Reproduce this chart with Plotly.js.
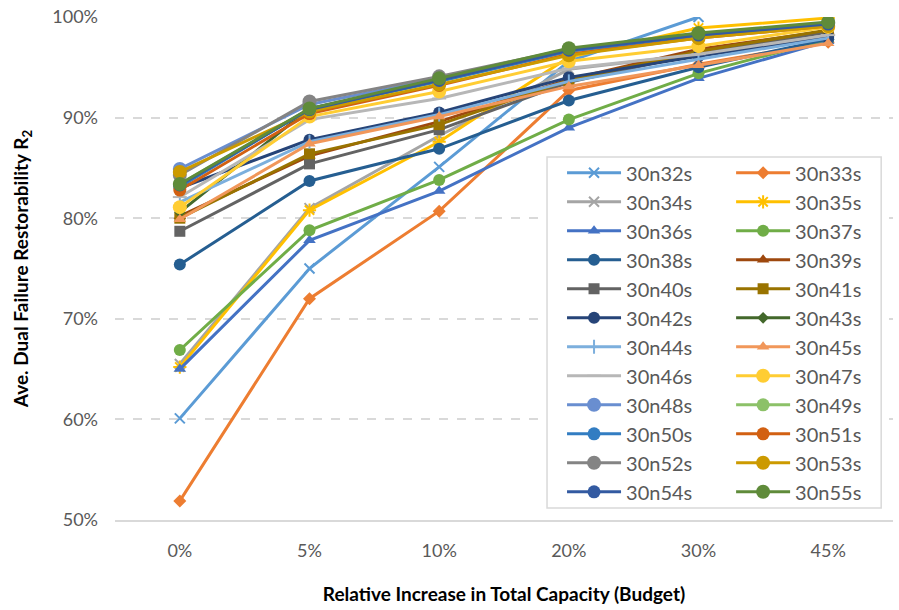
<!DOCTYPE html>
<html><head><meta charset="utf-8">
<script src="https://cdn.plot.ly/plotly-3.0.1.min.js"></script>
<style>html,body{margin:0;padding:0;background:#fff}#chart{width:899px;height:610px}</style>
</head><body><div id="chart"></div>
<script>
// ---- data ----
const categories = ['0%', '5%', '10%', '20%', '30%', '45%'];
const seriesNames = ['30n32s','30n33s','30n34s','30n35s','30n36s','30n37s','30n38s','30n39s',
  '30n40s','30n41s','30n42s','30n43s','30n44s','30n45s','30n46s','30n47s',
  '30n48s','30n49s','30n50s','30n51s','30n52s','30n53s','30n54s','30n55s'];
const s32 = [60.1, 75.0, 85.1, 95.6, 100.0, null];
const s33 = [51.9, 72.0, 80.7, 92.7, 95.3, 97.5];
const s34 = [65.5, 81.0, 88.2, 94.8, 96.3, 98.2];
const s35 = [65.2, 80.8, 87.6, 96.0, 98.9, 99.9];
const s36 = [65.0, 77.8, 82.7, 89.0, 93.9, 97.6];
const s37 = [66.9, 78.8, 83.8, 89.8, 94.4, 97.8];
const s38 = [75.4, 83.7, 86.9, 91.7, 95.0, 97.8];
const s39 = [80.2, 86.2, 89.6, 93.8, 96.8, 98.6];
const s40 = [78.7, 85.4, 88.8, 93.5, 96.4, 98.5];
const s41 = [80.0, 86.4, 89.3, 93.7, 96.6, 98.7];
const s42 = [83.0, 87.8, 90.5, 94.0, 96.1, 98.0];
const s43 = [80.6, 90.9, 93.7, 96.8, 98.3, 99.3];
const s44 = [81.6, 87.6, 90.3, 93.6, 95.8, 97.9];
const s45 = [79.9, 87.4, 90.1, 93.1, 95.2, 97.4];
const s46 = [82.1, 89.8, 91.9, 94.9, 96.3, 98.2];
const s47 = [81.1, 90.1, 92.6, 95.6, 97.1, 99.0];
const s48 = [84.9, 91.3, 93.9, 96.7, 98.2, 99.4];
const s49 = [83.4, 90.8, 93.6, 96.6, 98.2, 99.3];
const s50 = [83.1, 90.9, 93.6, 96.6, 98.1, 99.2];
const s51 = [82.8, 90.4, 93.2, 96.3, 97.9, 99.1];
const s52 = [84.3, 91.6, 94.1, 96.8, 98.3, 99.4];
const s53 = [84.6, 90.6, 93.3, 96.2, 97.9, 99.1];
const s54 = [83.3, 90.8, 93.7, 96.7, 98.2, 99.3];
const s55 = [83.4, 90.9, 93.9, 96.9, 98.4, 99.5];
const yTickVals = [50, 60, 70, 80, 90, 100];
const yTickText = ['50%', '60%', '70%', '80%', '90%', '100%'];

// ---- styles ----
const allSeries = [s32,s33,s34,s35,s36,s37,s38,s39,s40,s41,s42,s43,s44,s45,s46,s47,s48,s49,s50,s51,s52,s53,s54,s55];
const colors = ['#5B9BD5','#ED7D31','#A5A5A5','#FFC000','#4472C4','#70AD47','#255E91','#9E480E',
  '#636363','#997300','#264478','#43682B','#7CAFDD','#F1975A','#B7B7B7','#FFCD33',
  '#698ED0','#8CC168','#327DC2','#D26012','#848484','#CC9A00','#335AA1','#5F8B3A'];
const symbols = ['x-thin-open','diamond','x-thin-open','asterisk-open','triangle-up','circle','circle','triangle-up',
  'square','square','circle','diamond','line-ns-open','triangle-up','line-ew-open','circle',
  'circle','circle','circle','circle','circle','circle','circle','circle'];
const sizes = [10,10,10,11,11,12,12,11,11,11,12,9,10,11,10,14,14,13,13,13,14,14,13,14];

const FONT = 'Lato, "Open Sans", sans-serif';
const traces = seriesNames.map((name, i) => {
  const open = symbols[i].endsWith('-open');
  return {
    type: 'scatter', mode: 'lines+markers', name: name,
    x: categories, y: allSeries[i],
    legend: (i % 2 === 0) ? 'legend' : 'legend2',
    line: {color: colors[i], width: 3},
    marker: {symbol: symbols[i], size: sizes[i], color: colors[i],
             line: {color: colors[i], width: open ? 2 : 0}},
    hoverinfo: 'x+y+name'
  };
});

const legendCommon = {
  orientation: 'v', xanchor: 'left', yanchor: 'top', y: 0.729,
  bgcolor: 'rgba(0,0,0,0)', borderwidth: 0, itemwidth: 54,
  font: {family: FONT, size: 20, color: '#595959'}, itemclick: false
};

const layout = {
  width: 899, height: 610,
  margin: {l: 115.2, r: 6.2, t: 17, b: 90, autoexpand: false},
  paper_bgcolor: '#ffffff', plot_bgcolor: '#ffffff',
  showlegend: true,
  xaxis: {
    type: 'category', range: [-0.5, 5.5],
    showgrid: false, zeroline: false,
    showline: true, linecolor: '#D9D9D9', linewidth: 1.5,
    ticks: '', ticklabelstandoff: 14,
    tickfont: {family: FONT, size: 18, color: '#595959'},
    title: {text: 'Relative Increase in Total Capacity (Budget)', standoff: 27,
            font: {family: FONT, size: 19, color: '#000000', weight: 'bold'}}
  },
  yaxis: {
    range: [50, 100], tickvals: yTickVals, ticktext: yTickText,
    showgrid: true, gridcolor: '#D9D9D9', gridwidth: 1.5, griddash: 'dash',
    zeroline: false, showline: false, ticks: '', ticklabelstandoff: 16,
    tickfont: {family: FONT, size: 18, color: '#595959'},
    title: {text: 'Ave. Dual Failure Restorability R<sub>2</sub>', standoff: 18,
            font: {family: FONT, size: 19, color: '#000000', weight: 'bold'}}
  },
  legend: Object.assign({x: 0.5746}, legendCommon),
  legend2: Object.assign({x: 0.7919}, legendCommon),
  shapes: [{
    type: 'rect', xref: 'paper', yref: 'paper',
    x0: 0.5553, x1: 0.9848, y0: 0.0239, y1: 0.7217,
    line: {color: '#D9D9D9', width: 1.5}, fillcolor: '#ffffff', layer: 'above'
  }]
};

Plotly.newPlot('chart', traces, layout, {displayModeBar: false, responsive: false});
</script>
</body></html>
